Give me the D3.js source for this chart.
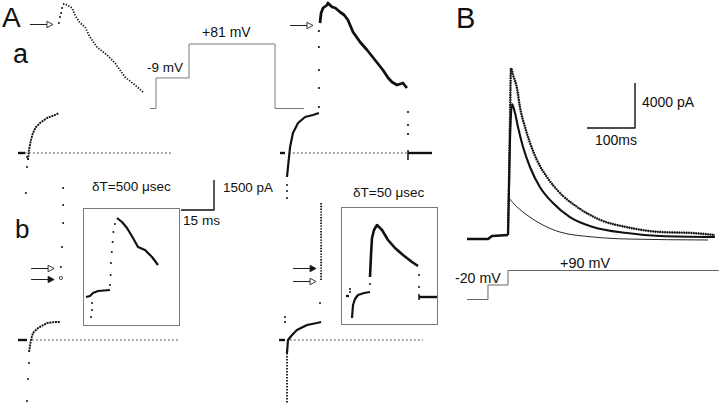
<!DOCTYPE html>
<html>
<head>
<meta charset="utf-8">
<script src="https://cdn.jsdelivr.net/npm/d3@7"></script>
<style>
  body { margin: 0; background: #fff; }
  svg text { font-family: "Liberation Sans", Arial, sans-serif; fill: #111; }
</style>
</head>
<body>
<svg id="fig" width="720" height="409"></svg>
<script>
// ---- values: [time ms, current pA] ----

// A a, left (dT = 500 usec)
const aaLeftHold = [[-4.1, 0], [-0.9, 0]];
const aaLeftCap  = [[0, -200], [0, -700], [-0.5, -2000]];
const aaLeftOn   = [[0.45, -350], [0.9, 150], [1.8, 650], [2.7, 1000], [4.1, 1300],
                    [5.9, 1500], [9.1, 1750], [12.7, 1900], [14.5, 2000]];
const aaLeftJump = [[14.5, 6500], [15.0, 6800], [15.5, 7000], [15.9, 7250]];
const aaLeftTail = [[16.4, 7450], [17.3, 7450], [18.2, 7400], [20.5, 7250], [21.8, 6900],
                    [24.1, 6500], [26.4, 6300], [28.6, 5800], [31.8, 5300], [36.4, 4900],
                    [40.0, 4500], [44.5, 3800], [49.1, 3400], [53.2, 3000]];

// A a, right (dT = 50 usec)
const aaRightHold = [[-3.2, 0], [-0.9, 0]];
const aaRightCap  = [[0, -1600], [0, -1900], [0, -2250]];
const aaRightOn   = [[0, -1200], [0.45, -700], [1.4, 300], [2.7, 1000], [5.0, 1500],
                     [8.2, 1800], [11.8, 1900], [14.5, 2000]];
const aaRightJump = [[14.5, 2300], [14.5, 3250], [14.5, 4150], [14.5, 5300], [14.5, 6100]];
const aaRightTop  = [[15.0, 6500], [15.5, 7000], [16.4, 7250], [18.2, 7400], [18.6, 7500],
                     [20.5, 7300], [22.0, 7250], [24.1, 7050], [26.0, 6900], [27.7, 6650],
                     [30.0, 6050], [33.2, 5550], [36.4, 5150], [40.0, 4650], [43.6, 4150],
                     [46.0, 3750], [47.7, 3550], [50.0, 3400], [52.7, 3500], [54.5, 3250]];
const aaRightOff  = [[55.0, 2050], [55.0, 1400], [55.0, 950]];
const aaRightAfter = [[55.0, 0], [65.9, 0]];
const aaRightTick  = [[55.0, 150], [55.0, -350]];

// A b, left
const abLeftHold = [[-5.0, 0], [-0.9, 0]];
const abLeftCap  = [[0, -1150], [-0.5, -1950], [-0.9, -3050]];
const abLeftOn   = [[0, -600], [0.9, 0], [1.8, 350], [4.1, 600], [8.2, 850], [11.8, 900], [14.1, 900]];
const abLeftJump = [[14.5, 3650], [15.0, 4650], [15.5, 5850], [15.5, 6750], [15.5, 7600]];
const abLeftOpen = [[14.5, 3100]];

// A b, right
const abRightHold  = [[-3.6, 0], [-0.9, 0]];
const abRightCap   = [[0, -650], [0, -3150]];
const abRightOn    = [[0, -650], [0.45, 0], [2.3, 250], [4.5, 500], [9.1, 750], [13.6, 850], [15.5, 900]];
const abRightJump  = [[15.5, 3000], [15.5, 6900]];
const abRightDots  = [[-0.9, 1150], [-0.9, 900], [15.0, 1850]];

// insets (expanded time)
const inLeftPre   = [[0.75, 1400], [1.75, 1450], [2.5, 1600], [3.75, 1700], [6.75, 1750]];
const inLeftCap   = [[2.25, 1100], [2.25, 750], [2.0, 400]];
const inLeftRise  = [[6.75, 2000], [6.9, 2500], [7.0, 3100], [7.2, 3650], [7.4, 4150], [7.6, 4650], [8.0, 5050]];
const inLeftDecay = [[8.5, 5350], [9.75, 5150], [11.0, 4850], [12.5, 4350], [13.75, 3900],
                     [15.5, 3750], [17.25, 3400], [18.75, 3000]];

const inRightPre   = [[1.25, 1400], [2.0, 1400]];
const inRightDots  = [[2.25, 1750], [2.25, 1600], [7.25, 2000], [19.5, 2450], [19.5, 1850]];
const inRightOn    = [[2.75, 300], [3.0, 950], [3.5, 1250], [4.25, 1450], [5.75, 1550], [7.25, 1600]];
const inRightPeak  = [[7.25, 2350], [7.5, 3450], [7.75, 4300], [8.25, 4700], [9.0, 4950], [10.25, 4700],
                      [11.75, 4200], [13.5, 3800], [15.5, 3450], [17.75, 3100], [19.25, 2900]];
const inRightAfter = [[19.5, 1350], [24.0, 1350]];
const inRightTick  = [[19.5, 1500], [19.5, 1200]];

// B
const bHold = [[-85.4, 0], [-41.7, 0], [-33.3, 270], [0, 355]];
const bData = [[0, 350], [2, 5000], [4.2, 10600], [6.2, 15200], [10.4, 14600], [18.7, 13400],
               [25, 11700], [35.4, 9950], [45.8, 8550], [60.4, 7000], [81.2, 5500], [108, 4100],
               [144, 2850], [192, 1700], [248, 1050], [317, 620], [385, 530], [431, 350]];
const bSecond = [[0, 355], [4.2, 8800], [8.3, 12000], [14.6, 11200], [20.8, 9950], [31.2, 8200],
                 [45.8, 6400], [66.7, 4600], [93.7, 3200], [129, 1950], [177, 1070], [248, 530],
                 [317, 270], [431, 180]];
const bSlow = [[0, 3730], [18.7, 2850], [39.6, 2130], [72.9, 1240], [108, 620], [177, 180], [248, 0], [417, -90]];

// voltage protocols [time ms, level]
const protoA = [[-2.7, -90], [0, -9], [15, 81], [54.1, -90], [67.3, -90]];
const protoB = [[-85.4, 'hold'], [-41.7, '-20 mV'], [0, '+90 mV'], [439, '+90 mV']];

// ---- scales ----
const svg = d3.select('#fig');

// panel A: 15 ms / 1500 pA scale bar
function scalesA(ox, oy) {
  return {
    x: d3.scaleLinear().domain([0, 15]).range([ox, ox + 33]),
    y: d3.scaleLinear().domain([0, 1500]).range([oy, oy - 30])
  };
}
function scalesInset(ox, oy) {
  return {
    x: d3.scaleLinear().domain([0, 24]).range([ox, ox + 96]),
    y: d3.scaleLinear().domain([0, 5850]).range([oy, oy - 117])
  };
}
// panel B: 100 ms / 4000 pA scale bar
function scalesB(ox, oy) {
  return {
    x: d3.scaleLinear().domain([0, 100]).range([ox, ox + 48]),
    y: d3.scaleLinear().domain([0, 4000]).range([oy, oy - 45])
  };
}

const sAaL = scalesA(27, 153);
const sAaR = scalesA(287, 153);
const sAbL = scalesA(29, 340);
const sAbR = scalesA(287, 340);
const sInL = scalesInset(83, 325);
const sInR = scalesInset(341, 324);
const sB = scalesB(508, 239);
const sBarA = scalesA(214, 210);
const sBarB = scalesB(635, 128);

const sProtoA = {
  x: d3.scaleLinear().domain([0, 15]).range([156, 189]),
  y: d3.scaleLinear().domain([-90, 81]).range([108.5, 44])
};
const sProtoB = {
  x: sB.x,
  y: d3.scalePoint().domain(['hold', '-20 mV', '+90 mV']).range([299.5, 270.5])
};

// ---- drawing helpers ----
function trace(s, data, opt = {}) {
  svg.append('path')
    .datum(data)
    .attr('d', d3.line().curve(opt.curve || d3.curveLinear)
      .x(d => s.x(d[0])).y(d => s.y(d[1])))
    .attr('fill', 'none')
    .attr('stroke', opt.color || '#111')
    .attr('stroke-width', opt.width || 1.6)
    .attr('stroke-dasharray', opt.dash || null)
    .attr('stroke-linejoin', 'round');
}

function samples(s, data, r = 1.1, open = false) {
  svg.append('g').selectAll('circle').data(data).join('circle')
    .attr('cx', d => s.x(d[0]))
    .attr('cy', d => s.y(d[1]))
    .attr('r', r)
    .attr('fill', open ? '#fff' : '#111')
    .attr('stroke', open ? '#222' : 'none')
    .attr('stroke-width', 0.8);
}

function zeroLine(s, span) {
  trace(s, span.map(t => [t, 0]), { width: 1, dash: '1.6,2.4', color: '#333' });
}

function arrow(s, t, I, filled) {
  const tip = s.x(t), y = Math.round(s.y(I)) + 0.5;
  svg.append('line')
    .attr('x1', tip - 23).attr('x2', tip - 5).attr('y1', y).attr('y2', y)
    .attr('stroke', '#222').attr('stroke-width', 1);
  svg.append('path')
    .attr('d', `M${tip},${y}L${tip - 6},${y - 3.2}L${tip - 6},${y + 3.2}Z`)
    .attr('fill', filled ? '#111' : '#fff')
    .attr('stroke', '#222').attr('stroke-width', 0.9);
}

function label(x, y, txt, size) {
  svg.append('text').attr('x', x).attr('y', y).attr('font-size', size).text(txt);
}

// ---- panel A a ----
zeroLine(sAaL, [-0.9, 66.4]);
trace(sAaL, aaLeftHold, { width: 2.4 });
samples(sAaL, aaLeftCap, 1);
trace(sAaL, aaLeftOn, { width: 1.9, dash: '2,0.8' });
samples(sAaL, aaLeftJump, 1);
trace(sAaL, aaLeftTail, { width: 1.8, dash: '1.3,1.5' });
arrow(sAaL, 11.8, 6450, false);

zeroLine(sAaR, [0.9, 55]);
trace(sAaR, aaRightHold, { width: 2.4 });
samples(sAaR, aaRightCap, 1);
trace(sAaR, aaRightOn, { width: 2.2 });
samples(sAaR, aaRightJump, 1.1);
trace(sAaR, aaRightTop, { width: 2.8 });
samples(sAaR, aaRightOff, 1.1);
trace(sAaR, aaRightAfter, { width: 2.4 });
trace(sAaR, aaRightTick, { width: 1.5 });
arrow(sAaR, 11.8, 6400, false);

trace(sProtoA, protoA, { width: 1, color: '#7a7a7a', curve: d3.curveStepAfter });
label(147, 72, '-9 mV', 13.5);
label(202, 37, '+81 mV', 14);

// scale bar A
trace(sBarA, [[-15, 0], [0, 0], [0, 1500]], { width: 1.4 });
label(223, 192, '1500 pA', 13.4);
label(183, 225, '15 ms', 13.6);

// ---- panel A b ----
zeroLine(sAbL, [1.4, 67.7]);
trace(sAbL, abLeftHold, { width: 2.4 });
samples(sAbL, abLeftCap, 1);
trace(sAbL, abLeftOn, { width: 1.9, dash: '2,0.8' });
samples(sAbL, abLeftJump, 1);
samples(sAbL, abLeftOpen, 1.6, true);
arrow(sAbL, 11.4, 3600, false);
arrow(sAbL, 11.4, 3050, true);

zeroLine(sAbR, [1.4, 61.8]);
trace(sAbR, abRightHold, { width: 2.4 });
trace(sAbR, abRightCap, { width: 1.8, dash: '1.4,1.6' });
trace(sAbR, abRightOn, { width: 2.2 });
trace(sAbR, abRightJump, { width: 1.8, dash: '1.4,1.4' });
samples(sAbR, abRightDots, 1);
arrow(sAbR, 13.2, 3600, true);
arrow(sAbR, 13.2, 2950, false);

// insets
[[sInL, 'δT=500 μsec', 92, 191], [sInR, 'δT=50 μsec', 353, 197]].forEach(([s, txt, lx, ly]) => {
  svg.append('rect')
    .attr('x', s.x(0) + 0.5).attr('y', s.y(5850) + 0.5)
    .attr('width', s.x(24) - s.x(0)).attr('height', s.y(0) - s.y(5850))
    .attr('fill', 'none').attr('stroke', '#7a7a7a').attr('stroke-width', 1);
  label(lx, ly, txt, 13.5);
});

trace(sInL, inLeftPre, { width: 2 });
samples(sInL, inLeftCap, 1);
samples(sInL, inLeftRise, 1);
trace(sInL, inLeftDecay, { width: 2.2 });

trace(sInR, inRightPre, { width: 2.2 });
samples(sInR, inRightDots, 1);
trace(sInR, inRightOn, { width: 2.2 });
trace(sInR, inRightPeak, { width: 2.6 });
trace(sInR, inRightAfter, { width: 2.4 });
trace(sInR, inRightTick, { width: 1.5 });

// ---- panel B ----
trace(sB, bHold, { width: 2.6 });
trace(sB, bSlow, { width: 0.9, curve: d3.curveMonotoneX });
trace(sB, bSecond, { width: 2.1, curve: d3.curveMonotoneX });
trace(sB, bData, { width: 0.9, curve: d3.curveMonotoneX });
trace(sB, bData, { width: 2.4, dash: '1.4,1', curve: d3.curveMonotoneX });

trace(sBarB, [[-100, 0], [0, 0], [0, 4000]], { width: 1.4 });
label(642, 107, '4000 pA', 14);
label(595, 145, '100ms', 14);

trace(sProtoB, protoB, { width: 1, color: '#666', curve: d3.curveStepAfter });
label(455, 283, '-20 mV', 14.2);
label(560, 268, '+90 mV', 14.4);

// panel letters
label(2, 27, 'A', 28);
label(13, 63, 'a', 27);
label(15, 238, 'b', 26);
label(456, 28, 'B', 29);
</script>
</body>
</html>
